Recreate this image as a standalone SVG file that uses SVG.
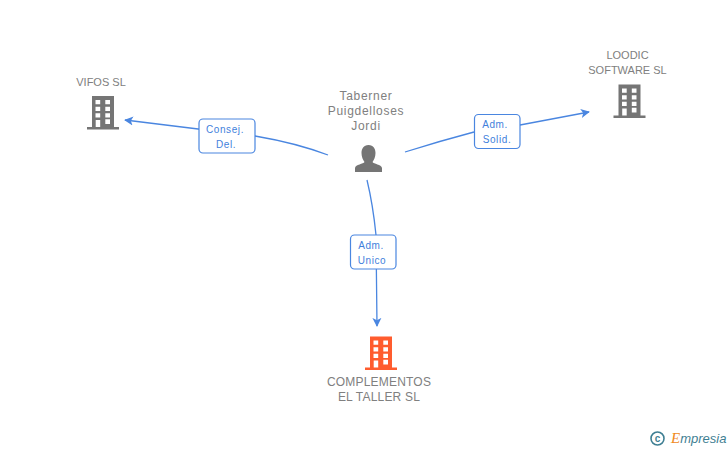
<svg xmlns="http://www.w3.org/2000/svg" width="728" height="450" viewBox="0 0 728 450">
<style>
.n{font-family:"Liberation Sans",Arial,sans-serif;font-size:11px;fill:#808080;text-anchor:middle}
.w{font-size:12px;letter-spacing:.2px}
.p{font-size:12px;letter-spacing:.7px}
.l{font-family:"Liberation Sans",Arial,sans-serif;font-size:10px;fill:#3f7fdc;text-anchor:middle;letter-spacing:.6px}
.c{fill:none;stroke:#4a86e0;stroke-width:1.3}
.b{fill:#fff;stroke:#4a86e0;stroke-width:1.2}
</style>
<defs>
<marker id="a" viewBox="0 0 10 10" refX="9" refY="5" markerWidth="9" markerHeight="10" markerUnits="userSpaceOnUse" orient="auto"><path d="M0 0L10 5L0 10L2.500 5Z" fill="#4a86e0"/></marker>
<path id="bld" fill-rule="evenodd" d="M0 0H22V31H27V33.500H-5V31H0ZM3.500 4V8.300H8.200V4ZM13.300 4V8.300H18V4ZM3.500 10.700V15H8.200V10.700ZM13.300 10.700V15H18V10.700ZM3.500 17.300V21.600H8.200V17.300ZM13.300 17.300V21.600H18V17.300ZM3.700 24V31H8.200V24ZM13.300 23.300V28H18V23.300Z"/>
</defs>
<rect width="728" height="450" fill="#fff"/>
<g id="connectors">
<path class="c" marker-end="url(#a)" d="M328 155Q296 143 255 136L125 120"/>
<path class="c" marker-end="url(#a)" d="M405 152Q440 141 474 132M520 125L589 112"/>
<path class="c" marker-end="url(#a)" d="M367 180Q373 205 376 235L377 326"/>
</g>
<g id="edge-consej"><rect class="b" x="199" y="119" width="56" height="34" rx="4"/><text class="l" x="225" y="133">Consej.</text><text class="l" x="226" y="148">Del.</text></g>
<g id="edge-solid"><rect class="b" x="474.500" y="114.500" width="45.500" height="34" rx="4"/><text class="l" x="495" y="128">Adm.</text><text class="l" x="497" y="143">Solid.</text></g>
<g id="edge-unico"><rect class="b" x="350.500" y="235" width="45.500" height="34" rx="4"/><text class="l" x="371" y="249">Adm.</text><text class="l" x="372" y="264">Unico</text></g>
<g id="vifos"><use href="#bld" x="92" y="96" fill="#757575"/><text class="n" x="101" y="86">VIFOS SL</text></g>
<g id="loodic"><use href="#bld" x="618.500" y="84.500" fill="#757575"/><text class="n" x="627.500" y="59">LOODIC</text><text class="n" x="627.500" y="74">SOFTWARE SL</text></g>
<g id="complementos"><use href="#bld" x="370" y="336.500" fill="#ff5c2e"/><text class="n w" x="379" y="386">COMPLEMENTOS</text><text class="n w" x="379" y="401">EL TALLER SL</text></g>
<g id="person"><path fill="#757575" d="M368.500 145C373.500 145 375.500 149 375.500 153C375.500 157 374 160 372.500 162C373.500 164 381.500 164.500 382 168V172H355V168C355.500 164.500 363.500 164 364.500 162C363 160 361.500 157 361.500 153C361.500 149 363.500 145 368.500 145Z"/><text class="n p" x="366" y="100">Taberner</text><text class="n p" x="366" y="115">Puigdelloses</text><text class="n p" x="366" y="130">Jordi</text></g>
<g id="logo"><circle cx="657.500" cy="438.500" r="6.500" fill="none" stroke="#3f7f93" stroke-width="1.600"/><text x="657.500" y="442" font-family="Liberation Sans,sans-serif" font-size="10" font-weight="bold" fill="#3f7f93" text-anchor="middle">c</text><text x="671" y="443" font-family="Liberation Sans,sans-serif" font-style="italic" font-size="13" fill="#3f7f93"><tspan font-family="Liberation Serif,serif" font-size="15" fill="#f08a1d">E</tspan>mpresia</text></g>
</svg>
